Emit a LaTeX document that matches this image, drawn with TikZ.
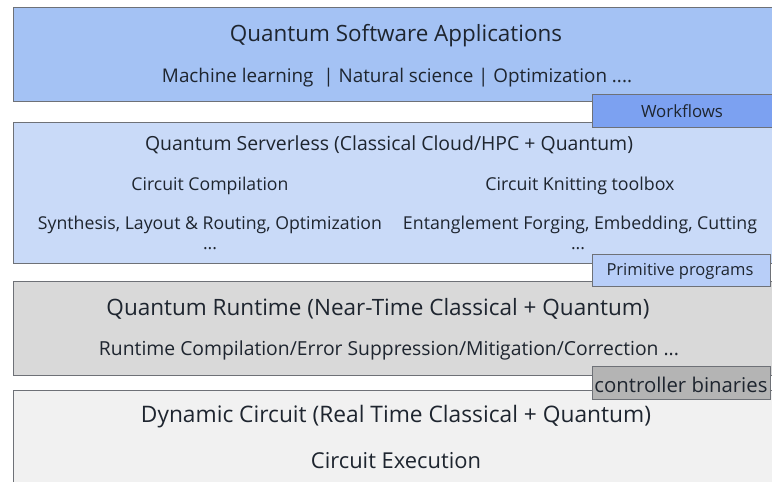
\documentclass[tikz,border=0pt]{standalone}
\usepackage{fontspec}
\setmainfont{Open Sans}
\usepackage{graphicx}
\definecolor{txt}{HTML}{1E252F}
\definecolor{edge}{HTML}{6E7177}
\definecolor{appfill}{HTML}{A4C2F4}
\definecolor{wffill}{HTML}{7CA1F1}
\definecolor{slfill}{HTML}{C9DAF8}
\definecolor{pgfill}{HTML}{B8CEF8}
\definecolor{rtfill}{HTML}{D9D9D9}
\definecolor{cbfill}{HTML}{B4B4B4}
\definecolor{dcfill}{HTML}{F1F1F1}
\newcommand{\fitw}[2]{\resizebox{#1pt}{!}{#2}}
\tikzset{
  layer/.style={draw=edge, line width=0.9pt, anchor=north west, inner sep=0pt},
  tag/.style={draw=edge, line width=0.9pt, anchor=north west, inner sep=0pt},
  lbl/.style={text=txt, inner sep=0pt, anchor=center, yshift=-2.5pt},
}
\begin{document}
\begin{tikzpicture}[x=1pt,y=-1pt]
\useasboundingbox (0,0) rectangle (772,482);
\fill[white] (0,0) rectangle (772,482);
\clip (0,0) rectangle (772,482);
% layers
\node[layer, fill=appfill, minimum width=800pt, minimum height=94pt] (app) at (13,7) {};
\node[layer, fill=slfill, minimum width=800pt, minimum height=141pt] (sl) at (13,122) {};
\node[layer, fill=rtfill, minimum width=800pt, minimum height=94pt] (rt) at (13,281) {};
\node[layer, fill=dcfill, minimum width=800pt, minimum height=120pt] (dc) at (13,390) {};
% tags
\node[tag, fill=wffill, minimum width=200pt, minimum height=33pt] (wf) at (592,94) {};
\node[tag, fill=pgfill, minimum width=178pt, minimum height=32pt] (pg) at (592,254) {};
\node[tag, fill=cbfill, minimum width=178pt, minimum height=33pt] (cb) at (592,366) {};
% texts
\node[lbl] (t1) at (396,33) {\fitw{332}{Quantum Software Applications}};
\node[lbl] (t2) at (397,75) {\fitw{470}{Machine learning \ | Natural science | Optimization ....}};
\node[lbl] (t3) at (682,109) {\fitw{82}{Workflows}};
\node[lbl] (t4) at (389,142) {\fitw{488}{Quantum Serverless (Classical Cloud/HPC + Quantum)}};
\node[lbl] (t5) at (210,183) {\fitw{157}{Circuit Compilation}};
\node[lbl] (t6) at (580,183) {\fitw{189}{Circuit Knitting toolbox}};
\node[lbl] (t7) at (210,222) {\fitw{344}{Synthesis, Layout \& Routing, Optimization}};
\node[lbl] (t8) at (580,222) {\fitw{354}{Entanglement Forging, Embedding, Cutting}};
\node[lbl] (t9) at (210,246) {\fitw{14}{...}};
\node[lbl] (t10) at (578,246) {\fitw{14}{...}};
\node[lbl] (t11) at (680,269) {\fitw{147}{Primitive programs}};
\node[lbl] (t12) at (378,306) {\fitw{543}{Quantum Runtime (Near-Time Classical + Quantum)}};
\node[lbl] (t13) at (389,348) {\fitw{580}{Runtime Compilation/Error Suppression/Mitigation/Correction ...}};
\node[lbl] (t14) at (681,382) {\fitw{173}{controller binaries}};
\node[lbl] (t15) at (396,414) {\fitw{510}{Dynamic Circuit (Real Time Classical + Quantum)}};
\node[lbl] (t16) at (396,458) {\fitw{170}{Circuit Execution}};
\end{tikzpicture}
\end{document}
